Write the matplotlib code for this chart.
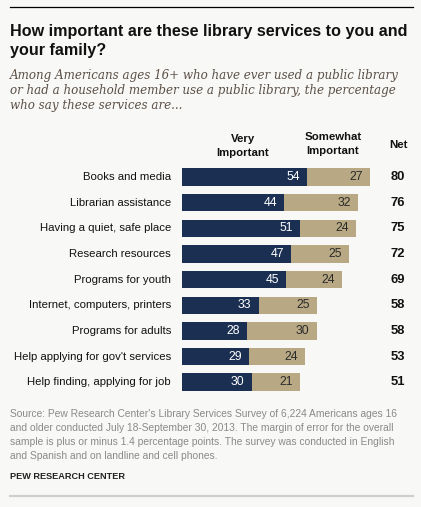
import matplotlib
matplotlib.use("Agg")
import matplotlib.pyplot as plt

# Data
services = [
    "Books and media",
    "Librarian assistance",
    "Having a quiet, safe place",
    "Research resources",
    "Programs for youth",
    "Internet, computers, printers",
    "Programs for adults",
    "Help applying for gov't services",
    "Help finding, applying for job",
]
very_important = [54, 44, 51, 47, 45, 33, 28, 29, 30]
somewhat_important = [27, 32, 24, 25, 24, 25, 30, 24, 21]
net = [80, 76, 75, 72, 69, 58, 58, 53, 51]

W, H = 421, 507
NAVY = "#1b2f52"
TAN = "#b8a984"
BG = "#f8f8f6"

fig = plt.figure(figsize=(W / 100, H / 100), dpi=100, facecolor=BG)


def fx(px):
    return px / W


def fy(py):
    return 1 - py / H


# Rule lines
fig.add_artist(plt.Line2D([fx(10), fx(413)], [fy(7), fy(7)], color="black", lw=0.9))
fig.add_artist(plt.Line2D([fx(10), fx(413)], [fy(496), fy(496)], color="#cfcfcf", lw=1.6))

# Title + subtitle
sans = "Liberation Sans"
title_kw = dict(fontsize=11.6, fontweight="bold", family=sans, color="#111111")
fig.text(fx(10), fy(36), "How important are these library services to you and", **title_kw)
fig.text(fx(10), fy(54.5), "your family?", **title_kw)

sub_kw = dict(fontsize=8.6, style="italic", family="DejaVu Serif", color="#5b5047")
subtitle = [
    "Among Americans ages 16+ who have ever used a public library",
    "or had a household member use a public library, the percentage",
    "who say these services are...",
]
for i, line in enumerate(subtitle):
    fig.text(fx(10), fy(79 + i * 15), line, **sub_kw)

# Column headers
head_kw = dict(fontsize=8.2, fontweight="bold", family=sans, color="#111111", ha="center")
fig.text(fx(243), fy(141.7), "Very", **head_kw)
fig.text(fx(243), fy(155.7), "Important", **head_kw)
fig.text(fx(333), fy(140), "Somewhat", **head_kw)
fig.text(fx(333), fy(154), "Important", **head_kw)
fig.text(fx(399), fy(147.7), "Net", **head_kw)

# Bars
ax = fig.add_axes([fx(182), fy(395), fx(232), (395 - 164.2) / H])
ax.set_facecolor("none")
ypos = list(range(len(services)))
ax.barh(ypos, very_important, height=0.68, color=NAVY)
ax.barh(ypos, somewhat_important, left=very_important, height=0.68, color=TAN)
ax.set_xlim(0, 100)
ax.set_ylim(len(services) - 0.5, -0.5)
ax.axis("off")

per_unit = 232 / 100
for i, name in enumerate(services):
    v, s, n = very_important[i], somewhat_important[i], net[i]
    ax.text(-11 / per_unit, i, name, ha="right", va="center", fontsize=8.2,
            family=sans, color="#111111")
    ax.text(v - 7 / per_unit, i, str(v), ha="right", va="center", fontsize=8.8,
            family=sans, color="white")
    ax.text(v + s - 7 / per_unit, i, str(s), ha="right", va="center", fontsize=8.8,
            family=sans, color="#2a2a2a")
    ax.text((398 - 182) / per_unit, i, str(n), ha="center", va="center", fontsize=9.4,
            fontweight="bold", family=sans, color="#111111")

# Source note
note_kw = dict(fontsize=7.4, family=sans, color="#8a8a8a")
note = [
    "Source: Pew Research Center's Library Services Survey of 6,224 Americans ages 16",
    "and older conducted July 18-September 30, 2013. The margin of error for the overall",
    "sample is plus or minus 1.4 percentage points. The survey was conducted in English",
    "and Spanish and on landline and cell phones.",
]
for i, line in enumerate(note):
    fig.text(fx(10), fy(417 + i * 14.1), line, **note_kw)
fig.text(fx(10), fy(479), "PEW RESEARCH CENTER", fontsize=6.6, fontweight="bold",
         family=sans, color="#222222")

fig.savefig("out.png", dpi=100, facecolor=BG)
